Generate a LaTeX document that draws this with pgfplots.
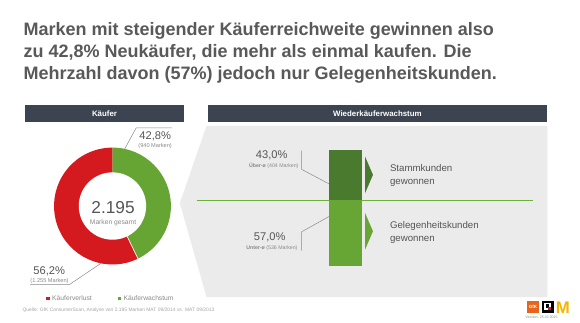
\documentclass[border=0pt]{standalone}
\usepackage{pgfplots}
\pgfplotsset{compat=1.18}
\usepackage{pgfplotstable}
\usepackage{fontspec}
\setmainfont{Liberation Sans}
\definecolor{titlegray}{HTML}{595959}
\definecolor{hdr}{HTML}{3B4450}
\definecolor{panel}{HTML}{ECEBEB}
\definecolor{kred}{HTML}{D51A1F}
\definecolor{kgreen}{HTML}{66A533}
\definecolor{dgreen}{HTML}{4A7A2D}
\definecolor{lgreen}{HTML}{67A634}
\definecolor{linegreen}{HTML}{6CB138}
\definecolor{txt}{HTML}{555555}
\definecolor{ltxt}{HTML}{8A8A8A}
\definecolor{gfk}{HTML}{E8641B}
\definecolor{myel}{HTML}{F5B400}

\pgfplotstableread{
label value
Kaeuferwachstum 940
Kaeuferverlust 1255
}\donutdata
\pgfplotstableread{
x value
0 57.0
}\gelegen
\pgfplotstableread{
x value
0 43.0
}\stamm

\newcommand\fs[1]{\fontsize{#1}{#1}\selectfont}

\begin{document}
\pgfplotstablegetelem{0}{value}\of\donutdata \let\va\pgfplotsretval
\pgfplotstablegetelem{1}{value}\of\donutdata \let\vb\pgfplotsretval
\pgfmathsetmacro\frac{\va/(\va+\vb)}
\pgfmathsetmacro\ang{90-360*\frac}
\begin{tikzpicture}[x=1bp,y=1bp]
\fill[white] (0,0) rectangle (580,326);
\begin{scope}[yshift=326bp,yscale=-1]
% title
\node[anchor=base west,inner sep=0,text=titlegray,font=\fs{18.25}\bfseries] at (18,35.5) {Marken mit steigender Käuferreichweite gewinnen also};
\node[anchor=base west,inner sep=0,text=titlegray,font=\fs{18.25}\bfseries] at (18,58) {zu 42,8\% Neukäufer, die mehr als einmal kaufen. Die};
\node[anchor=base west,inner sep=0,text=titlegray,font=\fs{18.25}\bfseries] at (18,80.5) {Mehrzahl davon (57\%) jedoch nur Gelegenheitskunden.};
% headers
\fill[hdr] (20,106) rectangle (180,123);
\node[text=white,font=\fs{8}\bfseries,inner sep=0] at (100,114.5) {Käufer};
\fill[panel] (203,127) -- (547,127) -- (547,300) -- (203,300) -- (176,205) -- cycle;
\fill[hdr] (204,106) rectangle (547,123);
\node[text=white,font=\fs{8}\bfseries,inner sep=0] at (375.5,114.5) {Wiederkäuferwachstum};
% green line
\draw[linegreen,line width=1.3bp] (193,202.5) -- (533,202.5);
% chevrons
\fill[dgreen] (363,158) -- (371,176.5) -- (363,195) -- cycle;
\fill[lgreen] (363,215) -- (371,233.5) -- (363,252) -- cycle;
% right labels
\node[anchor=base west,inner sep=0,text=txt,font=\fs{9.8}] at (388,173) {Stammkunden};
\node[anchor=base west,inner sep=0,text=txt,font=\fs{9.8}] at (388,186) {gewonnen};
\node[anchor=base west,inner sep=0,text=txt,font=\fs{9.8}] at (388,231) {Gelegenheitskunden};
\node[anchor=base west,inner sep=0,text=txt,font=\fs{9.8}] at (388,244) {gewonnen};
% bar labels
\draw[ltxt,line width=0.5bp] (299,152) -- (299,171) -- (333,189);
\draw[ltxt,line width=0.5bp] (299,253) -- (299,234) -- (333,215);
\node[anchor=base east,inner sep=0,text=txt,font=\fs{11.3}] at (285,160) {43,0\%};
\node[anchor=base east,inner sep=0,text=ltxt,font=\fs{5.3}] at (296,169) {\textbf{Über-ø} (404 Marken)};
\node[anchor=base east,inner sep=0,text=txt,font=\fs{11.3}] at (283,243) {57,0\%};
\node[anchor=base east,inner sep=0,text=ltxt,font=\fs{5.3}] at (295,251.5) {\textbf{Unter-ø} (536 Marken)};
% donut labels
\draw[ltxt,line width=0.5bp] (120,151) -- (132,129) -- (168,129);
\draw[ltxt,line width=0.5bp] (105,260) -- (65,287) -- (25,287);
\node[anchor=base west,inner sep=0,text=txt,font=\fs{11.3}] at (135,141) {42,8\%};
\node[anchor=base west,inner sep=0,text=ltxt,font=\fs{5.7}] at (134,149) {(940 Marken)};
\node[anchor=base west,inner sep=0,text=txt,font=\fs{11.3}] at (28,277) {56,2\%};
\node[anchor=base west,inner sep=0,text=ltxt,font=\fs{5.7}] at (25,285) {(1.255 Marken)};
% legend
\fill[kred] (41,299.5) rectangle (44.5,303);
\node[anchor=base west,inner sep=0,text=ltxt,font=\fs{6.8}] at (47,303.5) {Käuferverlust};
\fill[kgreen] (113.5,299.5) rectangle (117,303);
\node[anchor=base west,inner sep=0,text=ltxt,font=\fs{6.8}] at (119,303.5) {Käuferwachstum};
\node[anchor=base west,inner sep=0,text=black!35,font=\fs{5}] at (17,314) {Quelle: GfK ConsumerScan, Analyse von 2.195 Marken MAT 09/2014 vs. MAT 09/2013};
% logos
\fill[gfk] (526,304) rectangle (539,316);
\node[text=white,font=\fs{4.6}\bfseries,inner sep=0] at (532.5,310) {GfK};
\fill[black] (541.5,303.5) rectangle (554,316);
\fill[white] (544,305.5) rectangle (551,313);
\fill[black] (545.5,307) rectangle (549,310.5);
\fill[kred] (548,309.5) rectangle (551,313);
\node[anchor=base west,inner sep=0,text=myel,font=\fs{17}\bfseries] at (555.5,316) {M};
\node[anchor=base west,inner sep=0,text=ltxt,font=\fs{3.6}] at (525,322) {Version: 25.02.2015};
\end{scope}

% donut
\begin{axis}[at={(108bp,118bp)},anchor=center,scale only axis,width=118bp,height=118bp,
  xmin=-1,xmax=1,ymin=-1,ymax=1,hide axis,clip=false]
\fill[kgreen] (axis cs:0,0) -- (axis cs:0,1) arc[start angle=90,end angle=\ang,radius=59bp] -- cycle;
\fill[kred] (axis cs:0,0) -- (axis cs:{cos(\ang)},{sin(\ang)}) arc[start angle=\ang,end angle=-270,radius=59bp] -- cycle;
\draw[white,line width=0.7bp] (axis cs:0,0) -- (axis cs:{cos(\ang)},{sin(\ang)});
\fill[white] (axis cs:0,0) circle[radius=34bp];
\node[text=txt,font=\fs{17.5},inner sep=0,anchor=base] at (axis cs:0.01,-0.12) {2.195};
\node[text=ltxt,font=\fs{6.8},inner sep=0,anchor=base] at (axis cs:0.01,-0.31) {Marken gesamt};
\end{axis}

% stacked bar
\begin{axis}[at={(326.7bp,57.7bp)},anchor=south west,scale only axis,width=33.3bp,height=116.6bp,
  ybar stacked,bar width=33.3bp,xmin=-0.5,xmax=0.5,ymin=0,ymax=100,enlargelimits=false,
  hide axis,clip=false]
\addplot[fill=lgreen,draw=none] table[x=x,y=value]{\gelegen};
\addplot[fill=dgreen,draw=none] table[x=x,y=value]{\stamm};
\end{axis}
\end{tikzpicture}
\end{document}
